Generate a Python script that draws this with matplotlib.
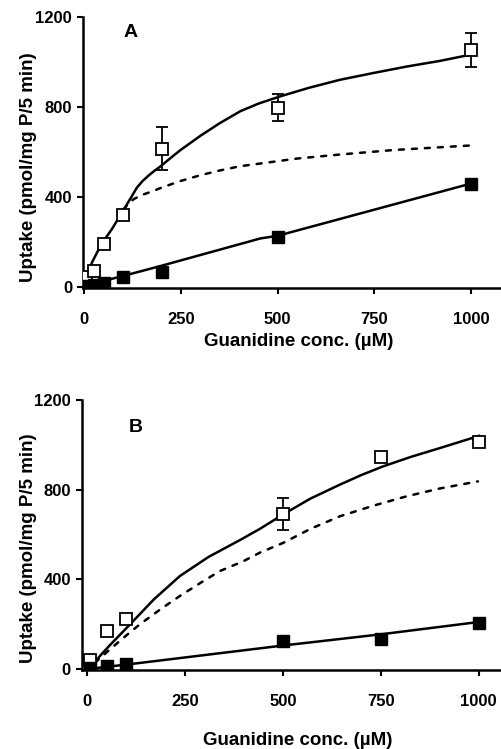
import matplotlib.pyplot as plt
import numpy as np

plt.rcParams['font.family'] = ['Liberation Sans', 'DejaVu Sans']
plt.rcParams['font.weight'] = 'bold'

# ---- panel A data ----
a_conc = [5, 25, 50, 100, 200, 500, 1000]
a_total = [45, 72, 190, 319, 615, 796, 1054]
a_total_err = [0, 0, 0, 0, 95, 60, 77]
a_nonsat = [3, 10, 20, 45, 68, 223, 460]

a_fit_x = [8, 20, 33, 50, 71, 90, 101, 112, 125, 136, 150, 165, 180, 196, 222, 248, 300, 350, 403, 450, 506, 580, 661, 750, 834, 920, 997]
a_fit_y = [60, 110, 154, 205, 257, 310, 340, 373, 410, 442, 470, 494, 515, 535, 572, 608, 672, 728, 781, 815, 847, 885, 921, 952, 980, 1005, 1032]
a_sat_x = [101, 115, 127, 140, 155, 170, 200, 248, 300, 350, 403, 455, 550, 661, 800, 997]
a_sat_y = [345, 372, 390, 402, 413, 422, 442, 471, 497, 518, 537, 549, 571, 589, 609, 629]
a_lin_x = [0, 119, 200, 455, 500, 1000]
a_lin_y = [5, 58, 95, 216, 228, 460]

# ---- panel B data ----
b_conc = [8, 50, 100, 500, 750, 1000]
b_total = [40, 170, 222, 693, 945, 1013]
b_total_err = [0, 0, 0, 72, 20, 0]
b_nonsat = [4, 15, 22, 123, 133, 207]

b_fit_x = [20, 33, 60, 110, 170, 237, 310, 390, 441, 501, 570, 645, 700, 756, 830, 900, 1001]
b_fit_y = [30, 59, 110, 200, 310, 415, 500, 575, 625, 690, 760, 822, 865, 904, 948, 985, 1040]
b_sat_x = [20, 59, 100, 135, 190, 237, 290, 339, 399, 441, 501, 570, 645, 730, 815, 900, 998]
b_sat_y = [28, 89, 150, 200, 270, 326, 385, 437, 481, 519, 563, 625, 681, 728, 770, 805, 837]
b_lin_x = [0, 100, 500, 750, 1000]
b_lin_y = [0, 20, 105, 155, 210]

x_ticks = [0, 250, 500, 750, 1000]
y_ticks = [0, 400, 800, 1200]

fig = plt.figure(figsize=(5.01, 7.49), dpi=100)
ax_a = fig.add_axes([0.166, 0.6155, 0.832, 0.3618])
ax_b = fig.add_axes([0.1637, 0.1055, 0.834, 0.3605])


def draw_panel(ax, conc, total, err, nonsat, fx, fy, sx, sy, lx, ly,
               letter, xlim, letter_pos, xpad, ylab_pos, xlab_pos):
    lw = 1.8
    ax.plot(sx, sy, color='black', lw=lw, linestyle=(0, (2, 3.2)), dash_capstyle='round', zorder=2)
    ax.plot(fx, fy, color='black', lw=lw, zorder=3)
    ax.plot(lx, ly, color='black', lw=lw, zorder=3)
    e = np.array(err, dtype=float)
    ax.errorbar(conc, total, yerr=e, fmt='none', ecolor='black', elinewidth=1.3,
                capsize=4, capthick=1.3, zorder=4)
    ax.plot(conc, total, 's', ms=8, mfc='white', mec='black', mew=1.3, zorder=5)
    ax.plot(conc, nonsat, 's', ms=8, mfc='black', mec='black', zorder=5)

    ax.set_xlim(*xlim)
    ax.set_ylim(-4, 1200)
    ax.set_xticks(x_ticks)
    ax.set_yticks(y_ticks)
    ax.spines['top'].set_visible(False)
    ax.spines['right'].set_visible(False)
    ax.spines['left'].set_linewidth(1.8)
    ax.spines['bottom'].set_linewidth(1.8)
    ax.tick_params(direction='out', length=4, width=1.5, labelsize=12)
    ax.tick_params(axis='y', pad=4)
    ax.tick_params(axis='x', pad=xpad)
    for lab in ax.get_xticklabels() + ax.get_yticklabels():
        lab.set_fontweight('bold')
    ax.set_ylabel('Uptake (pmol/mg P/5 min)', fontsize=13.5, fontweight='bold', va='center')
    ax.yaxis.set_label_coords(*ylab_pos)
    ax.set_xlabel('Guanidine conc. (\u00b5M)', fontsize=13.5, fontweight='bold', va='center')
    ax.xaxis.set_label_coords(*xlab_pos)
    ax.text(letter_pos[0], letter_pos[1], letter, fontsize=14, fontweight='bold',
            ha='center', va='center')


draw_panel(ax_a, a_conc, a_total, a_total_err, a_nonsat, a_fit_x, a_fit_y,
           a_sat_x, a_sat_y, a_lin_x, a_lin_y, 'A', (-3, 1075), (119, 1129),
           13, (-0.132, 0.445), (0.516, -0.199))
draw_panel(ax_b, b_conc, b_total, b_total_err, b_nonsat, b_fit_x, b_fit_y,
           b_sat_x, b_sat_y, b_lin_x, b_lin_y, 'B', (-13, 1054), (125, 1076),
           13, (-0.129, 0.452), (0.517, -0.262))

fig.savefig('out.png', dpi=100)
